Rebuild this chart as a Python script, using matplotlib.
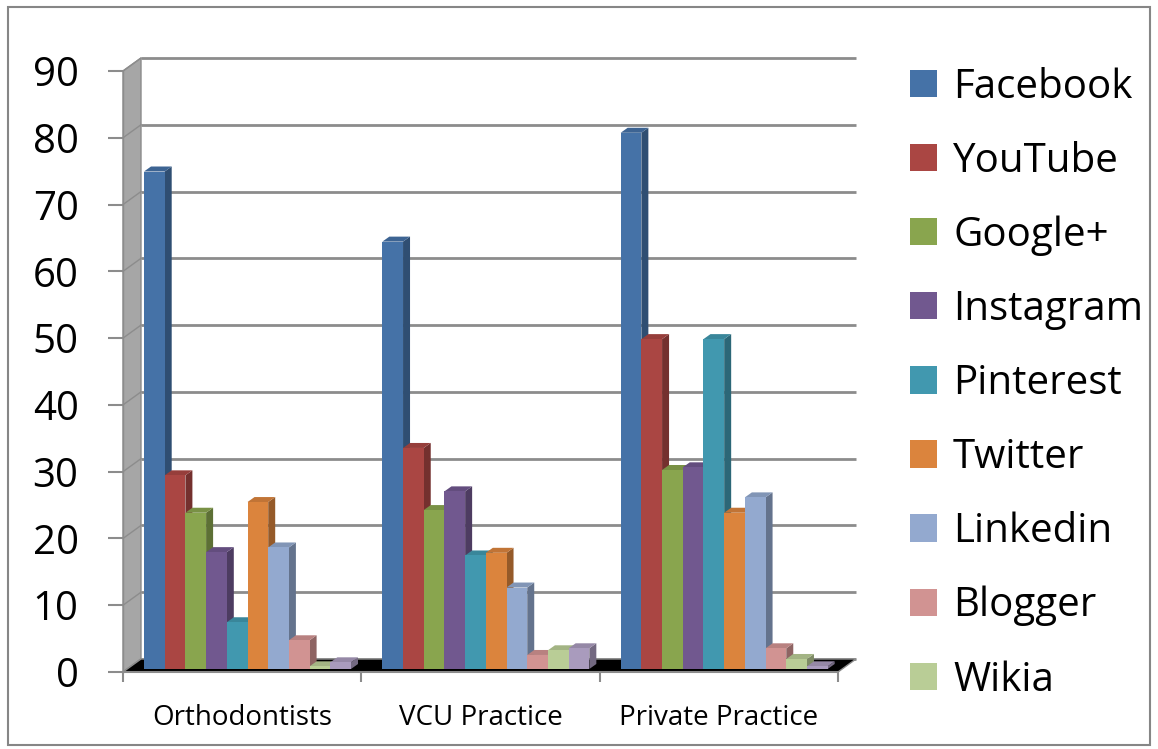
import matplotlib
matplotlib.use('Agg')
import matplotlib.pyplot as plt
import matplotlib.transforms as mtrans
from matplotlib.patches import Polygon, Rectangle
import numpy as np

# ---------------- data ----------------
categories = ['Orthodontists', 'VCU Practice', 'Private Practice']
series_names = ['Facebook', 'YouTube', 'Google+', 'Instagram', 'Pinterest',
                'Twitter', 'Linkedin', 'Blogger', 'Wikia', '']
facebook = [74.5, 64.0, 80.3]
youtube = [29.0, 33.1, 49.4]
google_plus = [23.4, 23.8, 29.8]
instagram = [17.5, 26.6, 30.2]
pinterest = [7.0, 17.0, 49.4]
twitter = [25.0, 17.4, 23.4]
linkedin = [18.2, 12.2, 25.7]
blogger = [4.3, 2.1, 3.1]
wikia = [0.4, 2.8, 1.5]
other = [1.0, 3.1, 0.4]
series_values = [facebook, youtube, google_plus, instagram, pinterest,
                 twitter, linkedin, blogger, wikia, other]
y_ticks = list(range(0, 91, 10))

colors = ['#4572A7', '#AA4643', '#89A54E', '#71588F', '#4198AF',
          '#DB843D', '#93A9CF', '#D19392', '#B9CD96', '#A99BBD']

plt.rcParams['font.family'] = ['Open Sans', 'DejaVu Sans']

W, H = 1158, 749
fig = plt.figure(figsize=(W / 100, H / 100), dpi=100)
ax_l, ax_r, ax_t, ax_b = 123, 838, 71, 672
ax = fig.add_axes([ax_l / W, (H - ax_b) / H, (ax_r - ax_l) / W, (ax_b - ax_t) / H])

ncat = len(categories)
xmax = ncat
ymax = 90
ux = (ax_r - ax_l) / xmax   # px per x unit
uy = (ax_b - ax_t) / ymax   # px per y unit

wall_dx, wall_dy = 18 / ux, 13 / uy
bar_dx, bar_dy = 7 / ux, 5 / uy
group_pad = 21 / ux
bar_w = 20.7 / ux

grid_col = '#8c8c8c'

# side wall
ax.add_patch(Polygon([(0, 0), (0, ymax), (wall_dx, ymax + wall_dy), (wall_dx, wall_dy)],
                     closed=True, facecolor='#a6a6a6', edgecolor=grid_col, lw=1,
                     clip_on=False, zorder=0.5))
# back wall gridlines + side-wall diagonals
for v in y_ticks:
    ax.plot([wall_dx, xmax + wall_dx], [v + wall_dy] * 2, color=grid_col, lw=2,
            clip_on=False, zorder=0.6, solid_capstyle='butt')
    ax.plot([0, wall_dx], [v, v + wall_dy], color=grid_col, lw=1, clip_on=False, zorder=0.6)
# floor
ax.add_patch(Polygon([(0, 0), (xmax, 0), (xmax + wall_dx, wall_dy), (wall_dx, wall_dy)],
                     closed=True, facecolor='black', edgecolor=grid_col, lw=1,
                     clip_on=False, zorder=1))


def shade(c, f):
    r, g, b = matplotlib.colors.to_rgb(c)
    return (r * f, g * f, b * f)


bar_trans = ax.transData + mtrans.ScaledTranslation(0, 3 / 100, fig.dpi_scale_trans)
x_cat = np.arange(ncat)
legend_handles = []
for i, (name, vals, col) in enumerate(zip(series_names, series_values, colors)):
    lefts = x_cat + group_pad + i * bar_w
    bars = ax.bar(lefts, vals, width=bar_w, align='edge', color=col, linewidth=0,
                  zorder=4 + 2 * i, transform=bar_trans, clip_on=False,
                  label=name if name else '_nolegend_')
    if name:
        legend_handles.append(bars)
    for rect in bars:
        x0 = rect.get_x()
        x1 = x0 + rect.get_width()
        h = rect.get_height()
        ax.add_patch(Polygon([(x1, 0), (x1, h), (x1 + bar_dx, h + bar_dy), (x1 + bar_dx, bar_dy)],
                             closed=True, facecolor=shade(col, 0.68), lw=0,
                             transform=bar_trans, clip_on=False, zorder=3 + 2 * i))
        ax.add_patch(Polygon([(x0, h), (x1, h), (x1 + bar_dx, h + bar_dy), (x0 + bar_dx, h + bar_dy)],
                             closed=True, facecolor=shade(col, 0.88), lw=0,
                             transform=bar_trans, clip_on=False, zorder=3 + 2 * i))

ax.set_xlim(0, xmax)
ax.set_ylim(0, ymax)

for s in ['top', 'right']:
    ax.spines[s].set_visible(False)
ax.spines['left'].set_color(grid_col)
ax.spines['bottom'].set_color(grid_col)
ax.spines['left'].set_linewidth(1)
ax.spines['bottom'].set_linewidth(1.5)
ax.spines['left'].set_zorder(0.7)

ax.set_yticks(y_ticks)
ax.set_yticklabels([str(v) for v in y_ticks])
ax.tick_params(axis='y', length=11, width=1.5, color=grid_col, labelsize=29, pad=21)

ax.set_xticks(np.arange(ncat + 1))
ax.set_xticklabels([''] * (ncat + 1))
ax.set_xticks(x_cat + 0.5, minor=True)
ax.set_xticklabels(categories, minor=True)
ax.tick_params(axis='x', which='major', length=7, width=1.5, color=grid_col)
ax.tick_params(axis='x', which='minor', length=0, labelsize=20, pad=23)
ax.set_facecolor('none')

fig.legend(legend_handles, [n for n in series_names if n], loc='upper left',
           bbox_to_anchor=(910 / W, 1 - 67 / H), frameon=False, fontsize=29,
           handlelength=0.67, handleheight=0.67, handletextpad=0.4,
           labelspacing=0.835, borderpad=0, borderaxespad=0)

fig.add_artist(Rectangle((8 / W, 1 - 745 / H), (1150 - 8) / W, (745 - 7) / H,
                         transform=fig.transFigure, fill=False,
                         edgecolor='#868686', lw=1.5))

fig.savefig('out.png', dpi=100)
